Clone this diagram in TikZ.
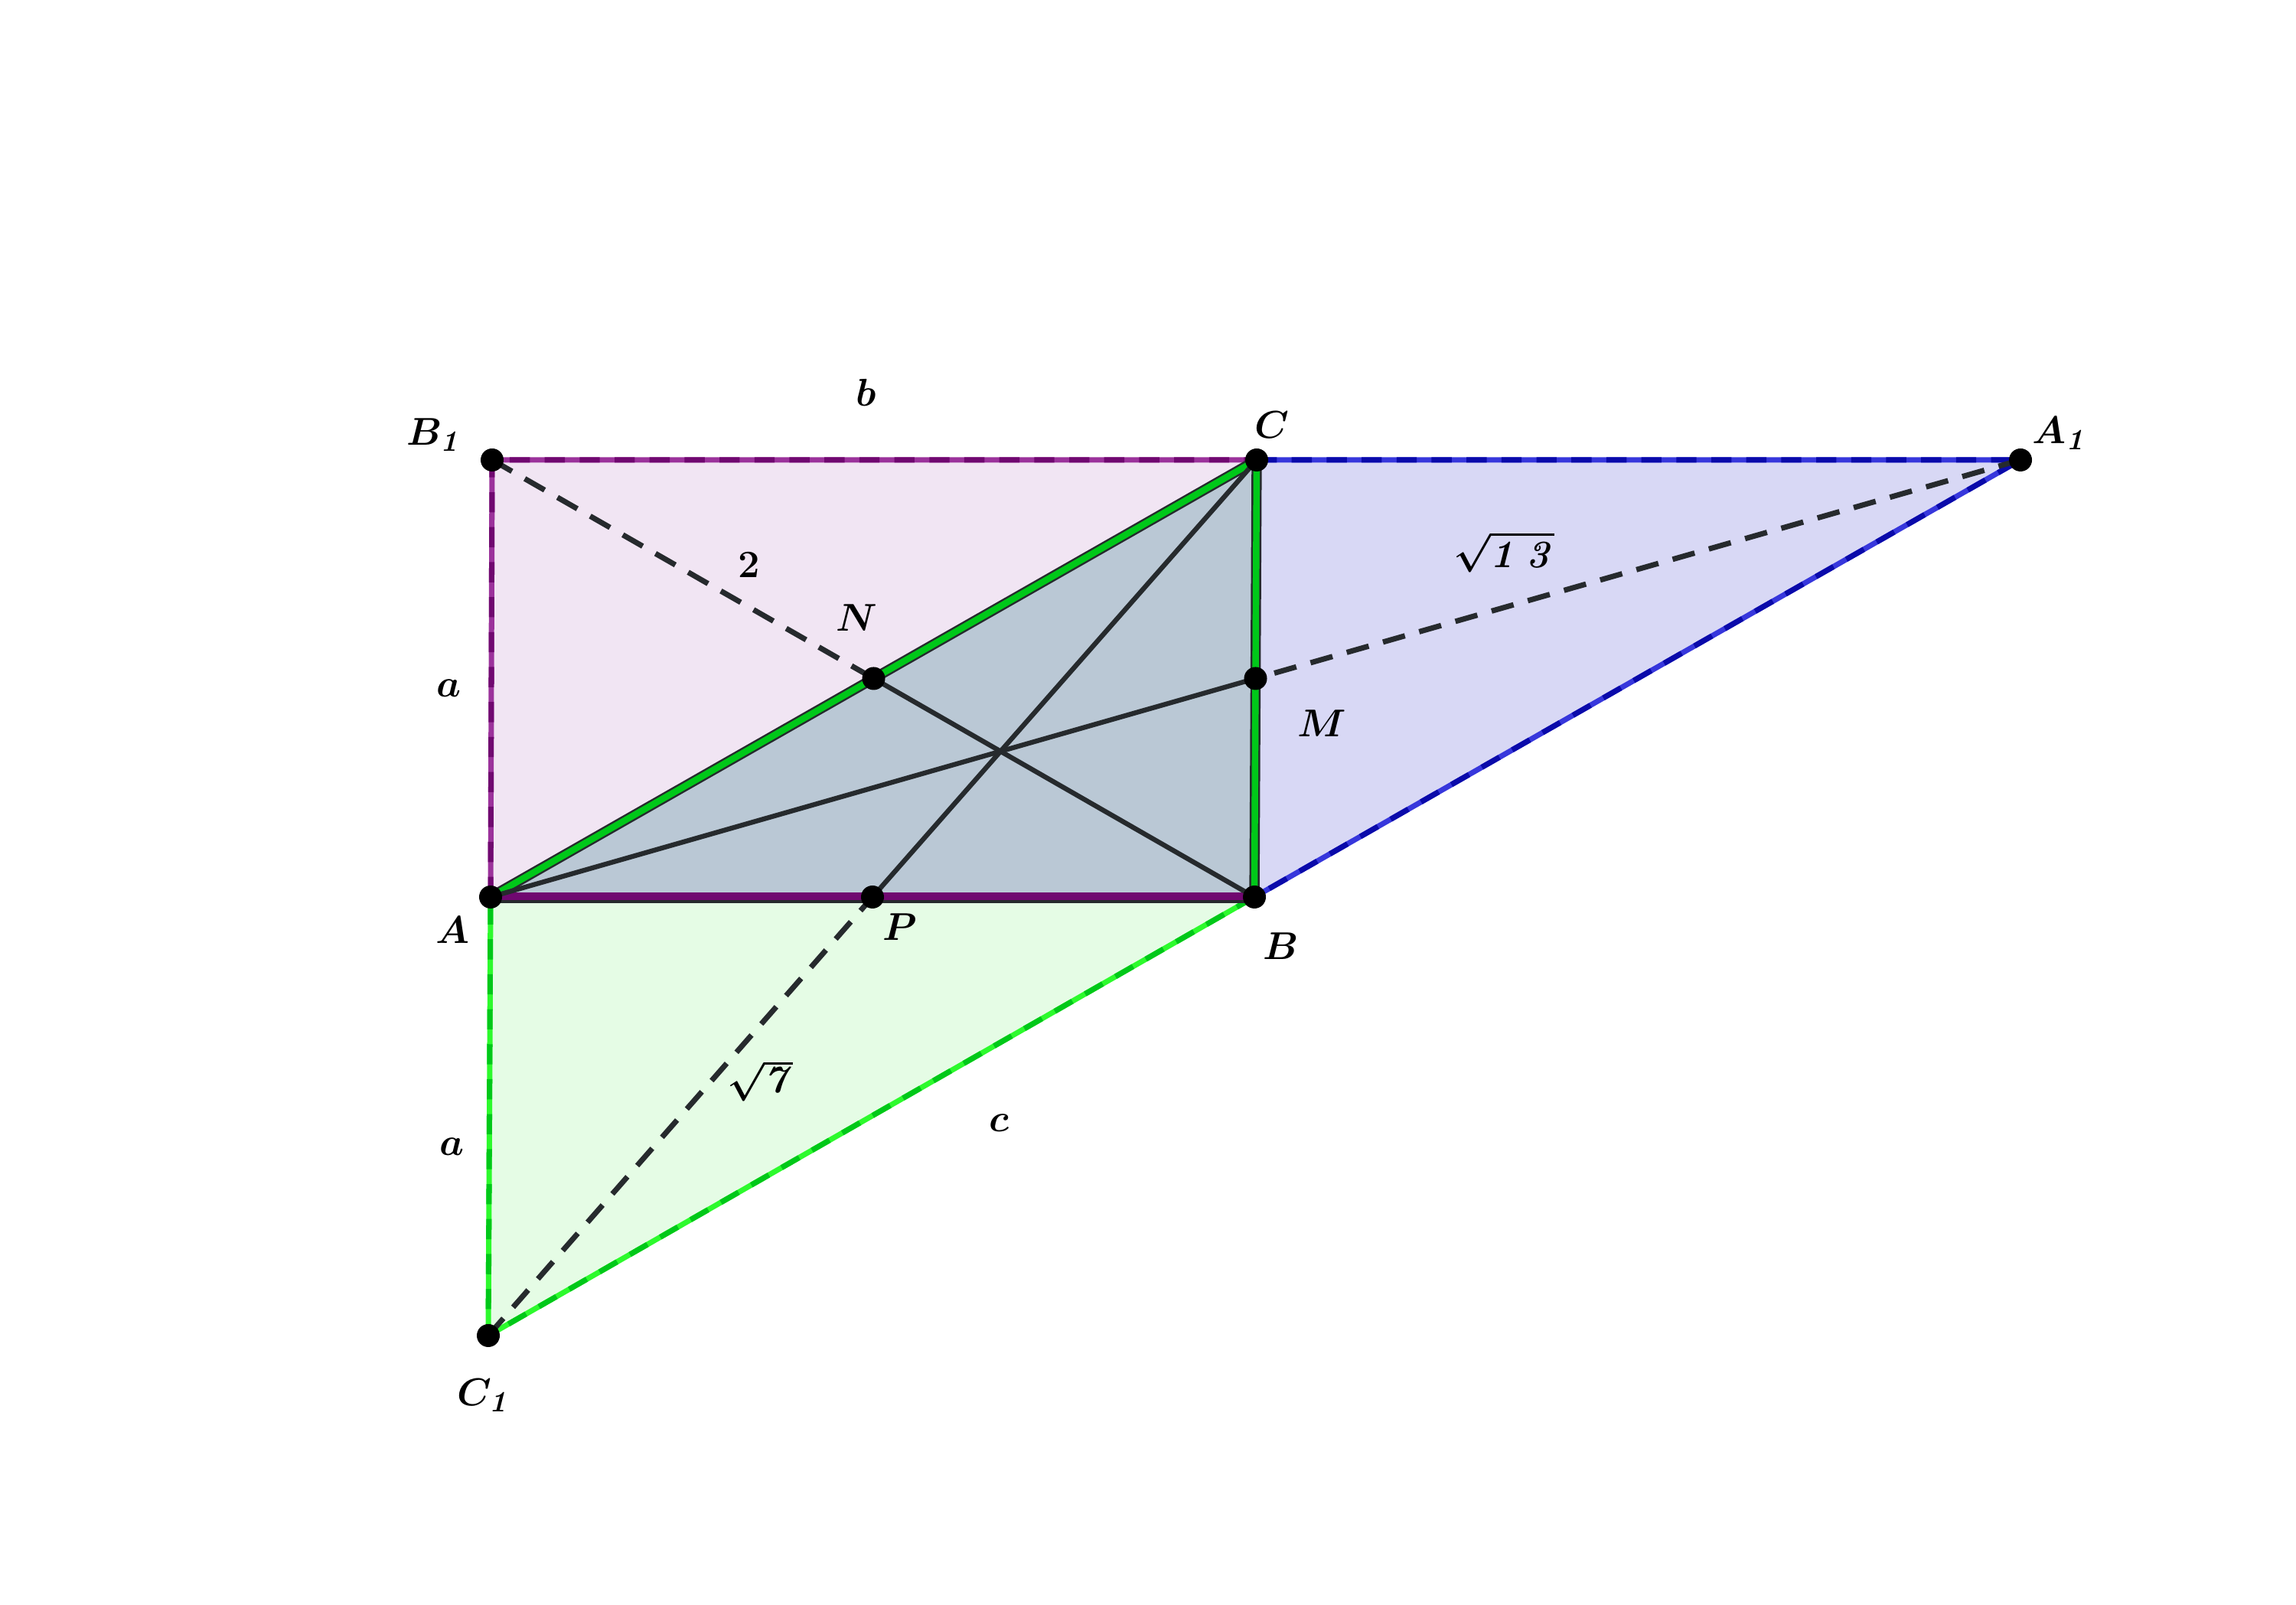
\documentclass[tikz,border=0pt]{standalone}
\usepackage{amsmath, amssymb}
\usepackage{xcolor}
\usepackage{tikz}
\usetikzlibrary{
    positioning,
    calc
}
\definecolor{fillPurple}{RGB}{241, 229, 243}
\definecolor{fillBlue}{RGB}{216, 216, 245}
\definecolor{fillGreen}{RGB}{229, 252, 229}
\definecolor{fillGray}{RGB}{186, 200, 213}
\definecolor{edgePurple}{RGB}{112, 8, 112}
\definecolor{lightPurple}{RGB}{155, 50, 155}
\definecolor{edgeBlue}{RGB}{10, 10, 170}
\definecolor{lightBlue}{RGB}{55, 55, 220}
\definecolor{edgeGreen}{RGB}{0, 200, 25}
\definecolor{lightGreen}{RGB}{45, 250, 45}
\definecolor{darkLine}{RGB}{38, 42, 45}

\tikzset{
    twotone/.style 2 args={line width=2pt, #1, postaction={draw, #2, line width=2pt, dash pattern=on 7.5pt off 5.5pt}},
    inner/.style={line width=1.8pt, darkLine},
    helper/.style={line width=2pt, darkLine, dash pattern=on 8.5pt off 5.5pt},
    pt/.style={circle, fill=black, inner sep=0pt, minimum size=0.3cm},
    lbl/.style={inner sep=0pt}
}

\begin{document}
\begin{tikzpicture}[x=1cm, y=1cm, font=\fontsize{15}{18}\selectfont]
        \useasboundingbox (0,0) rectangle (30,20.97);
        \coordinate (A) at (6.41, 9.25);
        \coordinate (B) at (16.39, 9.25);
        \coordinate (C) at (16.42, 14.96);
        \coordinate (B1) at (6.43, 14.96);
        \coordinate (A1) at (26.40, 14.96);
        \coordinate (C1) at (6.38, 3.52);
        \coordinate (N) at ($(A)!0.5!(C)$);
        \coordinate (M) at ($(B)!0.5!(C)$);
        \coordinate (P) at ($(A)!0.5!(B)$);

        % outer faces
        \fill[fillPurple] (B1) -- (C) -- (B) -- (A) -- cycle;
        \fill[fillBlue] (C) -- (A1) -- (B) -- cycle;
        \fill[fillGreen] (A) -- (B) -- (C1) -- cycle;
        \fill[fillGray] (A) -- (B) -- (C) -- cycle;

        % outer edges
        \draw[twotone={lightPurple}{edgePurple}] (A) -- (B1) -- (C);
        \draw[twotone={lightBlue}{edgeBlue}] (C) -- (A1) -- (B);
        \draw[twotone={lightGreen}{edgeGreen}] (B) -- (C1) -- (A);

        % triangle ABC
        \draw[line width=3.8pt, darkLine] (A) -- (C);
        \draw[line width=2.4pt, edgeGreen] (A) -- (C);
        \draw[line width=3.8pt, darkLine] (B) -- (C);
        \draw[line width=2.4pt, edgeGreen] (B) -- (C);
        \draw[line width=3.4pt, darkLine] ([yshift=-0.02cm]A) -- ([yshift=-0.02cm]B);
        \draw[line width=2.6pt, edgePurple] ([yshift=0.01cm]A) -- ([yshift=0.01cm]B);

        % medians
        \draw[inner] (A) -- (M);
        \draw[inner] (B) -- (N);
        \draw[inner] (C) -- (P);

        % dashed helpers
        \draw[helper] (B1) -- (N);
        \draw[helper] (A1) -- (M);
        \draw[helper] (C1) -- (P);

        \foreach \p in {A, B, C, A1, B1, C1, M, N, P}
            \node[pt] (dot\p) at (\p) {};

        \node[lbl] (labA) at (5.91, 8.82) {$\boldsymbol{A}$};
        \node[lbl] (labB) at (16.74, 8.61) {$\boldsymbol{B}$};
        \node[lbl] (labC) at (16.62, 15.42) {$\boldsymbol{C}$};
        \node[lbl] (labAone) at (26.92, 15.31) {$\boldsymbol{A_{\mathit{1}}}$};
        \node[lbl] (labBone) at (5.68, 15.29) {$\boldsymbol{B_{\mathit{1}}}$};
        \node[lbl] (labCone) at (6.33, 2.74) {$\boldsymbol{C_{\mathit{1}}}$};
        \node[lbl] (labN) at (11.19, 12.90) {$\boldsymbol{N}$};
        \node[lbl] (labM) at (17.27, 11.52) {$\boldsymbol{M}$};
        \node[lbl] (labP) at (11.76, 8.86) {$\boldsymbol{P}$};

        \node[lbl] (sideb) at (11.32, 15.84) {$\boldsymbol{b}$};
        \node[lbl] (sidea) at (5.87, 11.98) {$\boldsymbol{a}$};
        \node[lbl] (sideaa) at (5.91, 5.99) {$\boldsymbol{a}$};
        \node[lbl] (sidec) at (13.05, 6.30) {$\boldsymbol{c}$};
        \node[lbl] (lenN) at (9.79, 13.59) {$\boldsymbol{2}$};
        \node[lbl] (lenM) at (19.65, 13.76) {$\boldsymbol{\sqrt{\mathit{1}\,\mathit{3}}}$};
        \node[lbl] (lenP) at (9.93, 6.85) {$\boldsymbol{\sqrt{\mathit{7}}}$};
    \end{tikzpicture}
\end{document}
